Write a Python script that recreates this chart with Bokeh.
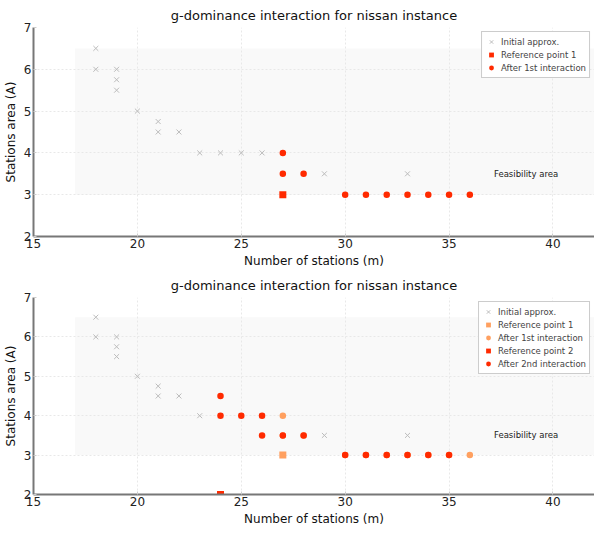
from bokeh.plotting import figure
from bokeh.layouts import column
from bokeh.models import Legend, LegendItem, Label, Range1d, FixedTicker
from bokeh.embed import file_html
from bokeh.resources import INLINE

# ---- data ----
init_x = [18, 18, 19, 19, 19, 20, 21, 21, 22, 23, 24, 25, 26, 29, 33]
init_y = [6.5, 6, 6, 5.75, 5.5, 5, 4.75, 4.5, 4.5, 4, 4, 4, 4, 3.5, 3.5]

ref1_x = [27]
ref1_y = [3]

inter1_x = [27, 27, 28, 30, 31, 32, 33, 34, 35, 36]
inter1_y = [4, 3.5, 3.5, 3, 3, 3, 3, 3, 3, 3]

ref2_x = [24]
ref2_y = [2]

inter2_x = [24, 24, 25, 26, 26, 27, 28, 30, 31, 32, 33, 34, 35]
inter2_y = [4.5, 4, 4, 4, 3.5, 3.5, 3.5, 3, 3, 3, 3, 3, 3]

feas_left, feas_right, feas_bottom, feas_top = 17, 42, 3, 6.5
x_ticks = [15, 20, 25, 30, 35, 40]
y_ticks = [2, 3, 4, 5, 6, 7]

FONT = "DejaVu Sans"
GRAY = "#bcbcbc"
RED = "#ff2a00"
ORANGE = "#ffa060"


def base_fig(height, border_top, border_bottom):
    p = figure(width=594, height=height, output_backend="svg", toolbar_location=None,
               x_range=Range1d(15, 42), y_range=Range1d(2, 7),
               title="g-dominance interaction for nissan instance",
               min_border_left=0, min_border_right=0,
               min_border_top=border_top, min_border_bottom=border_bottom)
    p.title.align = "center"
    p.title.text_font = FONT
    p.title.text_font_size = "13px"
    p.title.text_font_style = "normal"
    p.title.text_color = "#111111"
    p.outline_line_color = None
    p.background_fill_color = "white"
    p.xaxis.axis_label = "Number of stations (m)"
    p.yaxis.axis_label = "Stations area (A)"
    for ax in (p.xaxis, p.yaxis):
        ax.axis_label_text_font = FONT
        ax.axis_label_text_font_size = "12px"
        ax.axis_label_text_font_style = "normal"
        ax.axis_label_text_color = "#111111"
        ax.major_label_text_font = FONT
        ax.major_label_text_font_size = "12px"
        ax.major_label_text_color = "#222222"
        ax.axis_line_color = "#777777"
        ax.axis_line_width = 2
        ax.major_tick_in = 3
        ax.major_tick_out = 0
        ax.major_tick_line_color = "#cccccc"
        ax.minor_tick_line_color = None
        ax.axis_label_standoff = 3
        ax.major_label_standoff = 2
    p.xaxis.ticker = FixedTicker(ticks=x_ticks)
    p.yaxis.ticker = FixedTicker(ticks=y_ticks)
    p.grid.grid_line_color = "#e8e8e8"
    p.grid.grid_line_dash = "2 2"
    p.quad(left=[feas_left], right=[feas_right], bottom=[feas_bottom], top=[feas_top],
           fill_color="#f9f9f9", line_color=None, level="underlay")
    p.add_layout(Label(x=40.25, y=3.5, text="Feasibility area", text_align="right",
                       text_baseline="middle", text_font=FONT, text_font_size="8.5px",
                       text_color="#222222"))
    return p


def style_legend(p, items):
    leg = Legend(items=items, location="top_right")
    leg.label_text_font = FONT
    leg.label_text_font_size = "8.5px"
    leg.label_height = 13
    leg.glyph_height = 13
    leg.glyph_width = 12
    leg.label_standoff = 4
    leg.spacing = 0
    leg.padding = 3
    leg.margin = 4
    leg.border_line_color = "#999999"
    leg.border_line_width = 1
    leg.background_fill_alpha = 1
    p.add_layout(leg)


# ---- top chart ----
p1 = base_fig(270, 2, 12)
g0 = p1.scatter(init_x, init_y, marker="x", size=7, line_color=GRAY, line_width=1)
g1 = p1.scatter(ref1_x, ref1_y, marker="square", size=7, fill_color=RED, line_color=None)
g2 = p1.scatter(inter1_x, inter1_y, marker="circle", size=6.5, fill_color=RED, line_color=None)
style_legend(p1, [LegendItem(label="Initial approx.", renderers=[g0]),
                  LegendItem(label="Reference point 1", renderers=[g1]),
                  LegendItem(label="After 1st interaction", renderers=[g2])])

# ---- bottom chart ----
p2 = base_fig(258, 2, 0)
h0 = p2.scatter(init_x, init_y, marker="x", size=7, line_color=GRAY, line_width=1)
h1 = p2.scatter(ref1_x, ref1_y, marker="square", size=7, fill_color=ORANGE, line_color=None)
h2 = p2.scatter(inter1_x, inter1_y, marker="circle", size=6.5, fill_color=ORANGE, line_color=None)
h3 = p2.scatter(ref2_x, ref2_y, marker="square", size=7, fill_color=RED, line_color=None)
h4 = p2.scatter(inter2_x, inter2_y, marker="circle", size=6.5, fill_color=RED, line_color=None)
style_legend(p2, [LegendItem(label="Initial approx.", renderers=[h0]),
                  LegendItem(label="Reference point 1", renderers=[h1]),
                  LegendItem(label="After 1st interaction", renderers=[h2]),
                  LegendItem(label="Reference point 2", renderers=[h3]),
                  LegendItem(label="After 2nd interaction", renderers=[h4])])

layout = column(p1, p2, spacing=0)
open("out.html", "w").write(file_html(layout, INLINE))
